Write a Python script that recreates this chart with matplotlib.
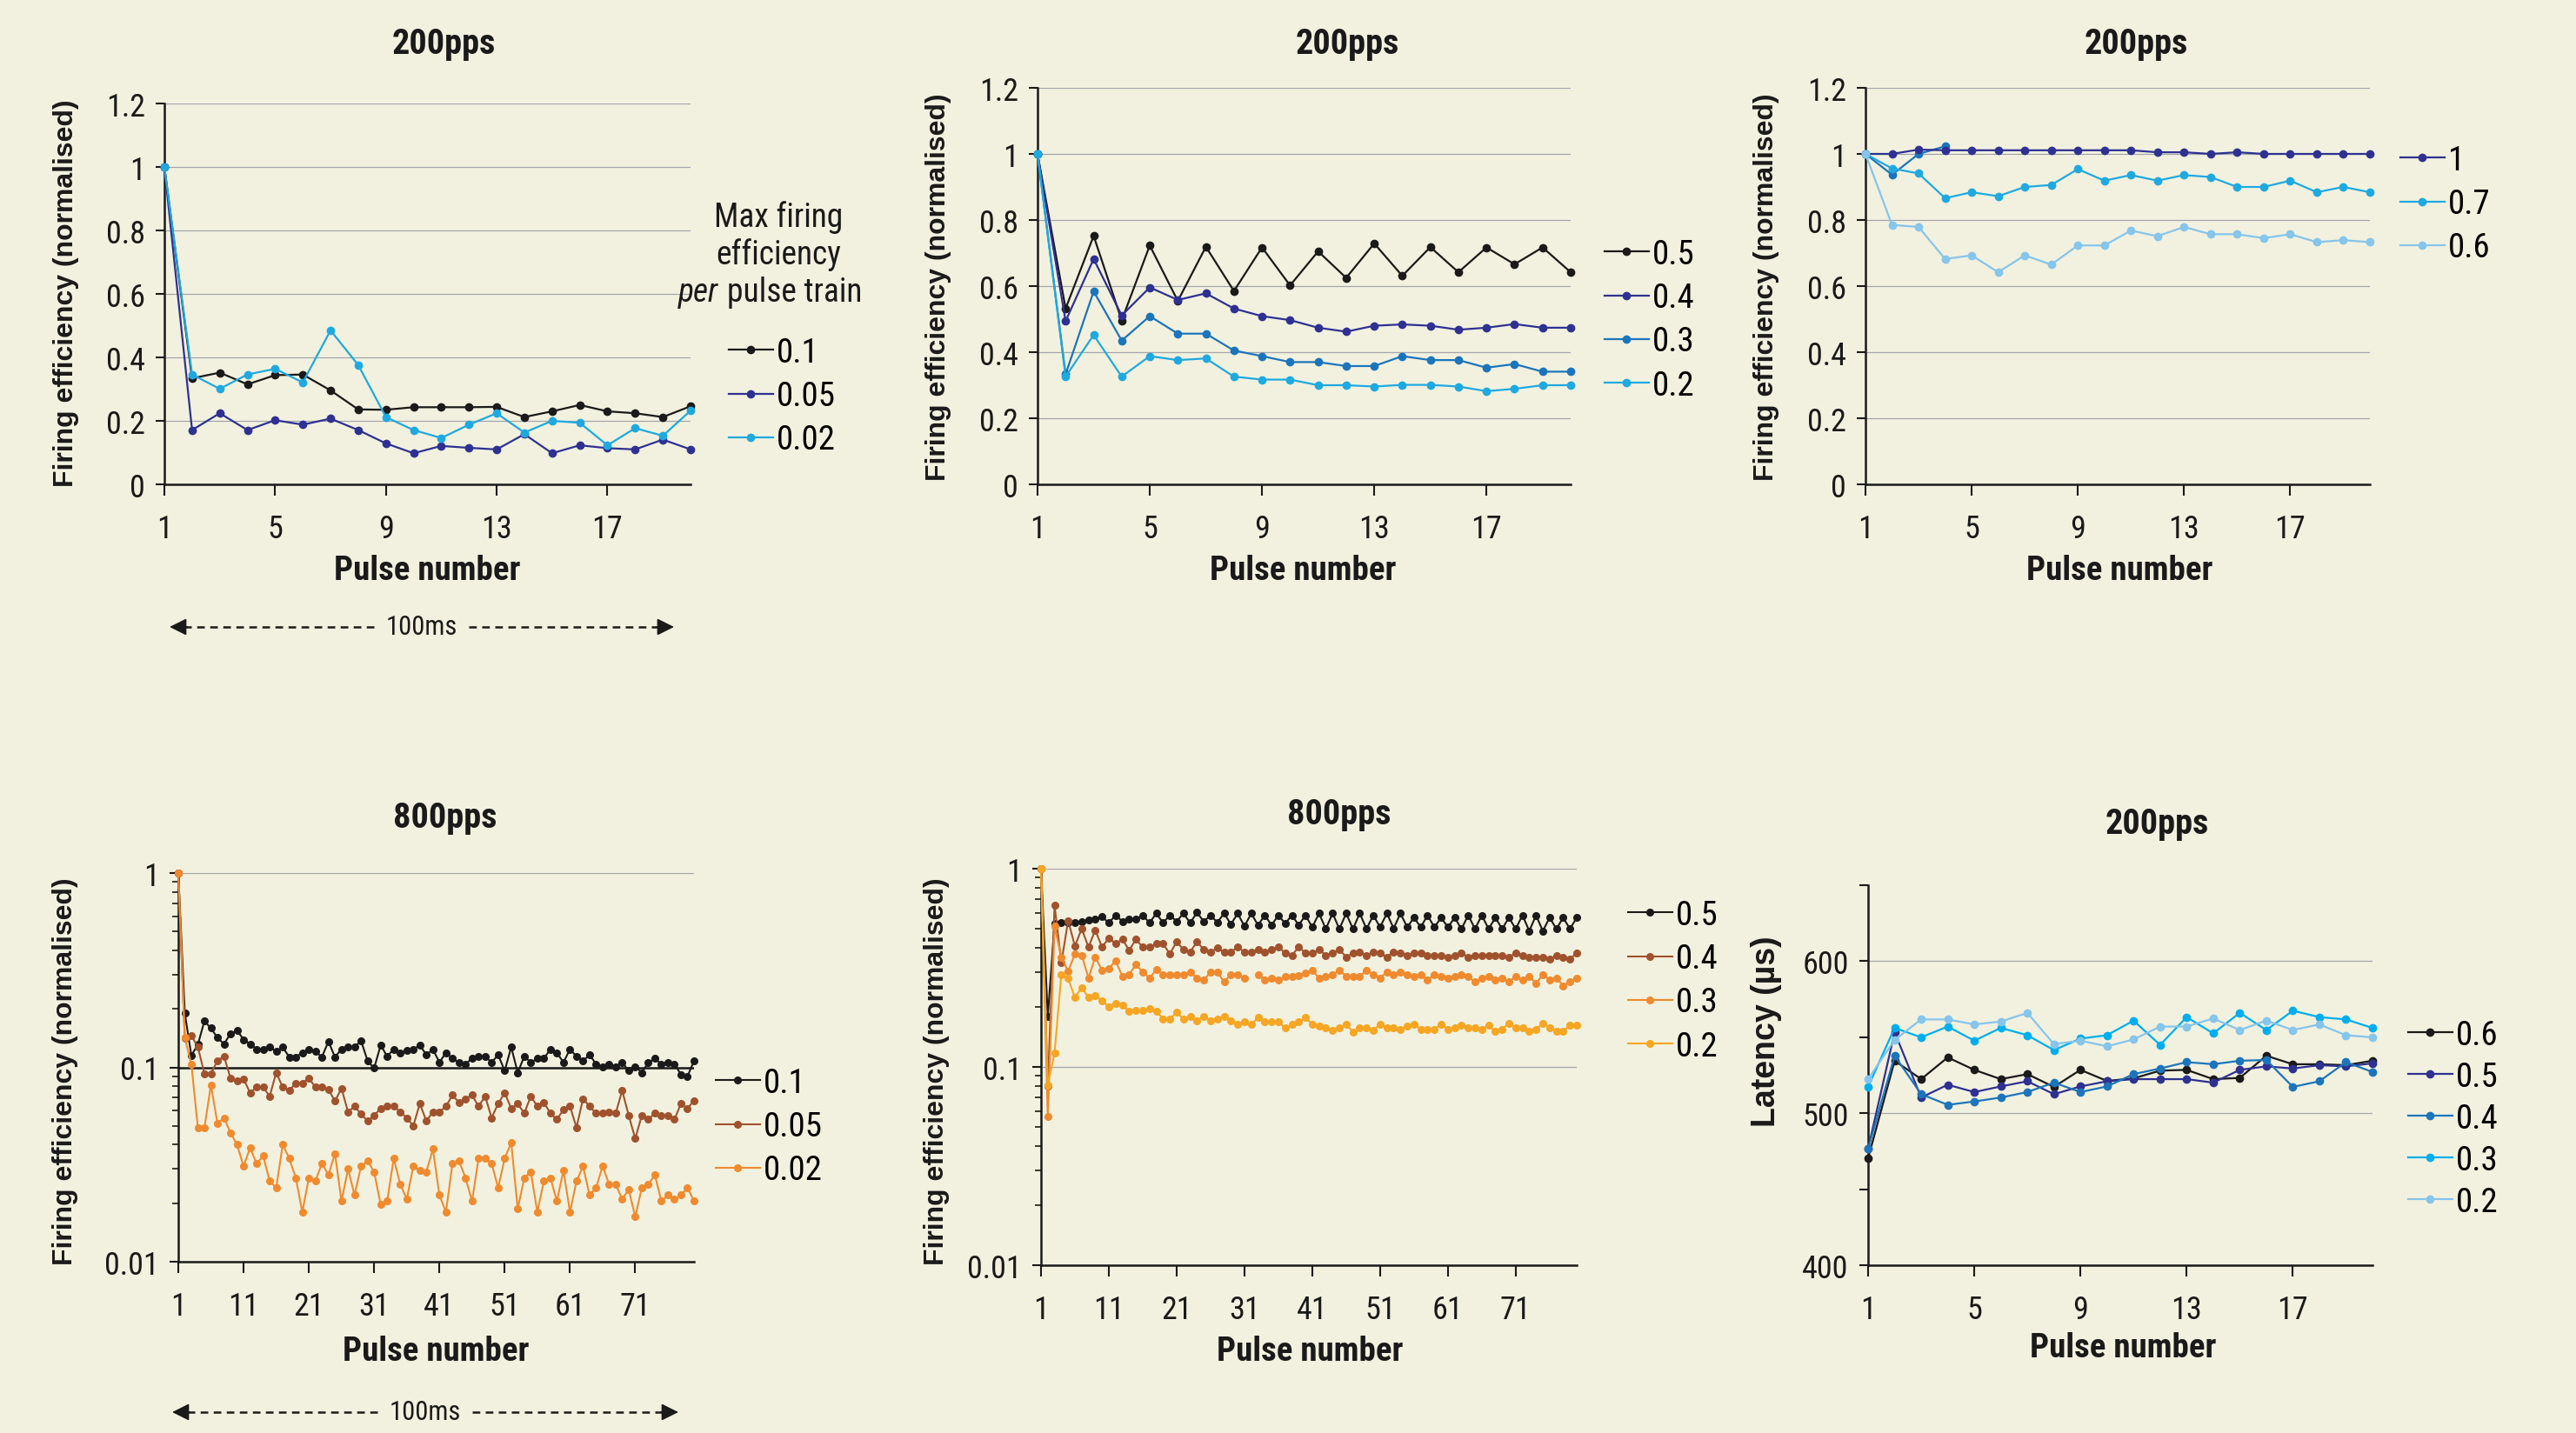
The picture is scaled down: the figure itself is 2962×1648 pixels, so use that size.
import numpy as np
import matplotlib.pyplot as plt
from matplotlib import font_manager
from matplotlib.lines import Line2D
from matplotlib.ticker import FixedLocator, NullFormatter, LogLocator

# ---- data ----
pulses20 = list(range(1, 21))
pulses80 = list(range(1, 81))

# 200pps, low max firing efficiency
eff200_01 = [1.0, 0.334, 0.352, 0.315, 0.344, 0.346, 0.296, 0.236, 0.235, 0.243,
             0.243, 0.243, 0.244, 0.212, 0.230, 0.250, 0.230, 0.224, 0.212, 0.246]
eff200_005 = [1.0, 0.171, 0.224, 0.171, 0.202, 0.188, 0.207, 0.171, 0.129, 0.098,
              0.121, 0.115, 0.110, 0.158, 0.098, 0.123, 0.114, 0.110, 0.141, 0.110]
eff200_002 = [1.0, 0.346, 0.301, 0.346, 0.364, 0.321, 0.485, 0.376, 0.212, 0.171,
              0.146, 0.188, 0.224, 0.163, 0.200, 0.194, 0.123, 0.177, 0.153, 0.232]

# 200pps, mid max firing efficiency
eff200_05 = [1.0, 0.532, 0.752, 0.496, 0.723, 0.555, 0.719, 0.585, 0.717, 0.602,
             0.705, 0.625, 0.729, 0.631, 0.718, 0.642, 0.717, 0.666, 0.717, 0.642]
eff200_04 = [1.0, 0.494, 0.682, 0.511, 0.596, 0.558, 0.578, 0.532, 0.509, 0.497,
             0.474, 0.462, 0.480, 0.484, 0.480, 0.468, 0.474, 0.485, 0.474, 0.474]
eff200_03 = [1.0, 0.333, 0.584, 0.435, 0.509, 0.456, 0.456, 0.405, 0.388, 0.370,
             0.370, 0.358, 0.358, 0.388, 0.376, 0.376, 0.353, 0.364, 0.341, 0.341]
eff200_02 = [1.0, 0.326, 0.452, 0.326, 0.388, 0.376, 0.381, 0.326, 0.317, 0.317,
             0.300, 0.300, 0.296, 0.301, 0.301, 0.296, 0.282, 0.289, 0.300, 0.300]

# 200pps, high max firing efficiency
eff200_1 = [1.0, 1.0, 1.013, 1.011, 1.011, 1.011, 1.011, 1.011, 1.011, 1.011,
            1.011, 1.005, 1.005, 1.0, 1.005, 1.0, 1.0, 1.0, 1.0, 1.0]
eff200_frag = [1.0, 0.937, 1.0, 1.023]   # short unlabelled trace
eff200_07 = [1.0, 0.956, 0.941, 0.866, 0.884, 0.872, 0.900, 0.906, 0.954, 0.919,
             0.936, 0.919, 0.936, 0.930, 0.900, 0.900, 0.919, 0.884, 0.900, 0.884]
eff200_06 = [1.0, 0.785, 0.779, 0.682, 0.693, 0.642, 0.693, 0.665, 0.723, 0.723,
             0.768, 0.751, 0.779, 0.757, 0.757, 0.745, 0.757, 0.733, 0.739, 0.733]

# 800pps, low max firing efficiency
eff800_01 = [1.0, 0.190, 0.115, 0.131, 0.173, 0.159, 0.142, 0.132, 0.149, 0.155,
             0.139, 0.132, 0.124, 0.124, 0.127, 0.121, 0.127, 0.113, 0.113, 0.119,
             0.124, 0.121, 0.113, 0.136, 0.113, 0.124, 0.127, 0.127, 0.137, 0.108,
             0.099, 0.130, 0.114, 0.124, 0.119, 0.122, 0.124, 0.130, 0.116, 0.124,
             0.106, 0.119, 0.111, 0.106, 0.104, 0.111, 0.114, 0.114, 0.106, 0.116,
             0.096, 0.127, 0.094, 0.114, 0.106, 0.111, 0.111, 0.124, 0.119, 0.106,
             0.124, 0.114, 0.108, 0.116, 0.104, 0.101, 0.104, 0.101, 0.106, 0.096,
             0.101, 0.094, 0.106, 0.111, 0.104, 0.106, 0.104, 0.092, 0.090, 0.108]
eff800_005 = [1.0, 0.141, 0.146, 0.127, 0.093, 0.093, 0.108, 0.114, 0.088, 0.085,
              0.087, 0.074, 0.079, 0.079, 0.071, 0.094, 0.079, 0.076, 0.083, 0.083,
              0.088, 0.079, 0.079, 0.077, 0.067, 0.078, 0.059, 0.063, 0.0575, 0.053,
              0.0565, 0.0615, 0.063, 0.063, 0.059, 0.055, 0.050, 0.065, 0.053, 0.059,
              0.059, 0.063, 0.072, 0.066, 0.069, 0.072, 0.063, 0.071, 0.055, 0.065,
              0.074, 0.0615, 0.065, 0.058, 0.071, 0.063, 0.066, 0.058, 0.054, 0.0605,
              0.063, 0.049, 0.069, 0.063, 0.058, 0.058, 0.059, 0.058, 0.076, 0.0565,
              0.043, 0.0565, 0.054, 0.058, 0.0565, 0.0565, 0.054, 0.065, 0.0615, 0.0675]
eff800_002 = [1.0, 0.142, 0.104, 0.049, 0.049, 0.081, 0.0515, 0.055, 0.046, 0.040,
              0.031, 0.0385, 0.032, 0.035, 0.026, 0.024, 0.040, 0.034, 0.027, 0.018,
              0.027, 0.026, 0.032, 0.028, 0.036, 0.0205, 0.030, 0.022, 0.031, 0.033,
              0.029, 0.0197, 0.0205, 0.034, 0.025, 0.021, 0.031, 0.0295, 0.029, 0.038,
              0.022, 0.018, 0.032, 0.033, 0.027, 0.0205, 0.034, 0.034, 0.032, 0.024,
              0.034, 0.041, 0.0187, 0.027, 0.029, 0.018, 0.026, 0.027, 0.0205, 0.0295,
              0.018, 0.026, 0.031, 0.022, 0.024, 0.031, 0.025, 0.025, 0.021, 0.0235,
              0.017, 0.024, 0.025, 0.028, 0.0205, 0.022, 0.021, 0.022, 0.024, 0.0205]

# 800pps, mid max firing efficiency
eff800_05 = [1.0, 0.180, 0.529, 0.536, 0.536, 0.536, 0.542, 0.551, 0.559, 0.572,
             0.533, 0.582, 0.542, 0.559, 0.555, 0.582, 0.533, 0.595, 0.533, 0.582,
             0.542, 0.595, 0.533, 0.601, 0.542, 0.582, 0.536, 0.595, 0.524, 0.595,
             0.512, 0.595, 0.519, 0.582, 0.519, 0.582, 0.529, 0.582, 0.519, 0.582,
             0.507, 0.595, 0.497, 0.595, 0.497, 0.595, 0.497, 0.595, 0.497, 0.582,
             0.507, 0.595, 0.500, 0.595, 0.507, 0.566, 0.507, 0.582, 0.507, 0.566,
             0.507, 0.566, 0.497, 0.582, 0.497, 0.582, 0.497, 0.566, 0.497, 0.566,
             0.497, 0.582, 0.485, 0.582, 0.485, 0.566, 0.497, 0.566, 0.497, 0.566]
eff800_04 = [1.0, 0.080, 0.652, 0.335, 0.547, 0.407, 0.498, 0.402, 0.490, 0.402,
             0.447, 0.418, 0.440, 0.388, 0.440, 0.402, 0.402, 0.418, 0.418, 0.372,
             0.428, 0.391, 0.380, 0.428, 0.391, 0.380, 0.398, 0.380, 0.380, 0.402,
             0.380, 0.380, 0.391, 0.380, 0.391, 0.402, 0.376, 0.366, 0.402, 0.376,
             0.376, 0.391, 0.366, 0.376, 0.391, 0.358, 0.376, 0.380, 0.366, 0.380,
             0.376, 0.358, 0.380, 0.376, 0.366, 0.376, 0.376, 0.366, 0.366, 0.366,
             0.358, 0.366, 0.376, 0.358, 0.366, 0.366, 0.366, 0.366, 0.366, 0.358,
             0.376, 0.366, 0.358, 0.358, 0.358, 0.349, 0.366, 0.358, 0.349, 0.376]
eff800_03 = [1.0, 0.056, 0.512, 0.358, 0.303, 0.372, 0.366, 0.281, 0.358, 0.307,
             0.314, 0.342, 0.287, 0.293, 0.328, 0.301, 0.281, 0.309, 0.293, 0.293,
             0.293, 0.293, 0.301, 0.281, 0.274, 0.301, 0.301, 0.268, 0.293, 0.293,
             0.281, np.nan, 0.293, 0.275, 0.281, 0.275, 0.287, 0.287, 0.289, 0.297,
             0.307, 0.281, 0.287, 0.293, 0.307, 0.287, 0.287, 0.287, 0.307, 0.293,
             0.281, 0.301, 0.293, 0.301, 0.293, 0.287, 0.293, 0.275, 0.293, 0.287,
             0.281, 0.287, 0.293, 0.287, 0.268, 0.281, 0.287, 0.275, 0.281, 0.268,
             0.287, 0.275, 0.287, 0.263, 0.293, 0.275, 0.281, 0.257, 0.268, 0.281]
eff800_02 = [1.0, 0.081, 0.118, 0.293, 0.279, 0.224, 0.251, 0.224, 0.230, 0.215,
             0.201, 0.210, 0.205, 0.191, 0.192, 0.192, 0.197, 0.191, 0.175, 0.175,
             0.188, 0.175, 0.179, 0.171, 0.180, 0.171, 0.175, 0.180, 0.171, 0.164,
             0.169, 0.164, 0.177, 0.169, 0.169, 0.169, 0.157, 0.164, 0.169, 0.177,
             0.164, 0.160, 0.157, 0.153, 0.158, 0.164, 0.150, 0.157, 0.157, 0.153,
             0.164, 0.157, 0.157, 0.155, 0.160, 0.164, 0.155, 0.155, 0.155, 0.164,
             0.155, 0.158, 0.162, 0.158, 0.158, 0.155, 0.162, 0.151, 0.155, 0.166,
             0.158, 0.158, 0.151, 0.155, 0.166, 0.158, 0.151, 0.151, 0.162, 0.162]

# 200pps latency (us)
lat_06 = [470.3, 534.5, 522.4, 536.7, 528.5, 522.4, 525.7, 517.3, 528.5, 521.2,
          522.9, 528.0, 528.5, 522.4, 523.2, 537.8, 532.2, 532.2, 531.6, 534.5]
lat_05 = [476.5, 553.3, 510.3, 518.7, 513.9, 517.6, 521.0, 512.5, 517.6, 521.0,
          522.4, 522.4, 522.4, 520.1, 528.5, 530.8, 529.4, 531.6, 530.8, 532.8]
lat_04 = [476.5, 537.8, 512.5, 505.5, 507.7, 510.3, 513.9, 520.1, 513.9, 517.6,
          525.7, 529.4, 533.6, 532.2, 534.5, 535.0, 517.3, 521.0, 533.6, 527.1]
lat_03 = [517.3, 556.1, 549.9, 557.0, 547.7, 556.1, 551.3, 541.5, 549.1, 551.3,
          560.9, 544.9, 563.2, 552.5, 566.0, 554.7, 567.4, 563.2, 561.7, 556.1]
lat_02 = [522.4, 548.2, 561.7, 561.7, 558.4, 560.3, 566.0, 545.4, 547.7, 544.0,
          548.5, 557.0, 557.0, 562.3, 554.7, 560.9, 554.7, 558.4, 551.3, 549.9]

ticks200 = [1, 5, 9, 13, 17]
ticks800 = [1, 11, 21, 31, 41, 51, 61, 71]
lin_ticks = [0, 0.2, 0.4, 0.6, 0.8, 1.0, 1.2]
lin_labels = ['0', '0.2', '0.4', '0.6', '0.8', '1', '1.2']
log_ticks = [0.01, 0.1, 1]
log_labels = ['0.01', '0.1', '1']
lat_ticks = [400, 450, 500, 550, 600, 650]
lat_labels = ['400', '', '500', '', '600', '']

# ---- styling ----
W, H = 2962, 1649
BG = '#F2F1DF'
INK = '#1A1A1A'
GRID = '#A3A6AD'
NAVY = '#2E3192'
MIDBLUE = '#1C75BC'
CYAN = '#1FA9E1'
SKY = '#86C5EC'
BROWN = '#A0522D'
ORANGE = '#F08A2E'
GOLD = '#F6A623'

# pick a condensed face if one is installed, else the narrowest plain one
installed = {f.name for f in font_manager.fontManager.ttflist}
narrow_face = 'Roboto'
for name in ['Liberation Sans Narrow', 'Roboto Condensed', 'Arial Narrow',
             'Open Sans Condensed', 'Noto Sans Display', 'Roboto']:
    if name in installed:
        narrow_face = name
        break
NARROW = [narrow_face, 'DejaVu Sans']
WIDE = ['Liberation Sans', 'DejaVu Sans']

plt.rcParams['font.family'] = NARROW

TICK_FS = 26
LEG_FS = 28


def fx(x):
    return x / W


def fy(y):
    return 1 - y / H


fig = plt.figure(figsize=(W / 100, H / 100), dpi=100, facecolor=BG)


def make_axes(x0, y0, x1, y1):
    ax = fig.add_axes([fx(x0), fy(y1), (x1 - x0) / W, (y1 - y0) / H])
    ax.set_facecolor('none')
    ax.spines['top'].set_visible(False)
    ax.spines['right'].set_visible(False)
    for s in ['left', 'bottom']:
        ax.spines[s].set_linewidth(1.8)
        ax.spines[s].set_color(INK)
    ax.tick_params(axis='both', direction='out', color=INK, width=1.5,
                   labelsize=TICK_FS, labelcolor=INK)
    ax.tick_params(axis='y', length=7, pad=9)
    ax.tick_params(axis='x', length=9, pad=15)
    return ax


def plot_series(ax, x, y, color, label=None, lw=1.6, ms=6):
    ax.plot(x, y, color=color, lw=lw, marker='o', ms=ms, mec=color, mfc=color,
            label=label, clip_on=False, zorder=3)


def add_legend(ax, x, y, spacing=0.34):
    ax.legend(loc='upper left', bbox_to_anchor=(fx(x), fy(y)),
              bbox_transform=fig.transFigure, frameon=False, borderpad=0,
              borderaxespad=0, handlelength=1.3, handletextpad=0.12,
              labelspacing=spacing, prop={'family': NARROW, 'size': LEG_FS})


def label_panel(title, tx, ty, px, py, ylab, lx, ly, yfs=23):
    fig.text(fx(tx), fy(ty), title, ha='center', va='center', fontsize=29,
             fontweight='bold', color=INK)
    fig.text(fx(px), fy(py), 'Pulse number', ha='center', va='center',
             fontsize=28, fontweight='bold', color=INK)
    fig.text(fx(lx), fy(ly), ylab, ha='center', va='center', rotation=90,
             fontsize=yfs, fontweight='bold', color=INK, family=WIDE)


def linear_eff_axes(ax):
    ax.set_xlim(1, 20)
    ax.set_ylim(0, 1.2)
    ax.set_xticks(ticks200)
    ax.set_xticklabels([str(t) for t in ticks200])
    ax.set_yticks(lin_ticks)
    ax.set_yticklabels(lin_labels)
    for v in lin_ticks[1:]:
        ax.axhline(v, color=GRID, lw=0.9, zorder=1)


def log_eff_axes(ax, black_tenth=False):
    ax.set_yscale('log')
    ax.set_xlim(1, 80)
    ax.set_ylim(0.01, 1)
    ax.set_xticks(ticks800)
    ax.set_xticklabels([str(t) for t in ticks800])
    ax.yaxis.set_major_locator(FixedLocator(log_ticks))
    ax.set_yticklabels(log_labels)
    ax.yaxis.set_minor_locator(LogLocator(base=10, subs=np.arange(2, 10)))
    ax.yaxis.set_minor_formatter(NullFormatter())
    ax.tick_params(axis='y', which='minor', length=5, width=1.2, color=INK)
    ax.axhline(1, color=GRID, lw=0.9, zorder=1)
    if black_tenth:
        ax.axhline(0.1, color=INK, lw=1.8, zorder=2)
    else:
        ax.axhline(0.1, color=GRID, lw=0.9, zorder=1)


def range_arrow(x0, x1, y, tx0, tx1, label):
    fig.text(fx((tx0 + tx1) / 2), fy(y), label, ha='center', va='center',
             fontsize=22, color=INK)
    for a, b in [(tx0 - 14, x0 + 16), (tx1 + 14, x1 - 16)]:
        fig.add_artist(Line2D([fx(a), fx(b)], [fy(y), fy(y)],
                              transform=fig.transFigure, color=INK, lw=1.8,
                              ls=(0, (3.5, 2.5))))
    for tail, tip in [(x0 + 20, x0), (x1 - 20, x1)]:
        fig.add_artist(plt.Annotation('', xy=(fx(tip), fy(y)),
                                      xytext=(fx(tail), fy(y)),
                                      xycoords='figure fraction',
                                      textcoords='figure fraction',
                                      arrowprops=dict(arrowstyle='-|>',
                                                      color=INK, lw=1.2,
                                                      mutation_scale=30,
                                                      shrinkA=0, shrinkB=0)))


# ---- panel 1: 200pps low ----
ax1 = make_axes(189, 120, 794, 558)
linear_eff_axes(ax1)
plot_series(ax1, pulses20, eff200_01, INK, '0.1')
plot_series(ax1, pulses20, eff200_005, NAVY, '0.05')
plot_series(ax1, pulses20, eff200_002, CYAN, '0.02')
add_legend(ax1, 838, 388)
label_panel('200pps', 510, 51, 491, 657, 'Firing efficiency (normalised)', 76, 337)
fig.text(fx(895), fy(250), 'Max firing', ha='center', va='center', fontsize=27, color=INK)
fig.text(fx(895), fy(293), 'efficiency', ha='center', va='center', fontsize=27, color=INK)
fig.text(fx(826), fy(337), 'per', ha='right', va='center', fontsize=27,
         style='italic', color=INK)
fig.text(fx(836), fy(337), 'pulse train', ha='left', va='center', fontsize=27, color=INK)
range_arrow(195, 775, 722, 444, 525, '100ms')

# ---- panel 2: 200pps mid ----
ax2 = make_axes(1193, 102, 1806, 558)
linear_eff_axes(ax2)
plot_series(ax2, pulses20, eff200_05, INK, '0.5')
plot_series(ax2, pulses20, eff200_04, NAVY, '0.4')
plot_series(ax2, pulses20, eff200_03, MIDBLUE, '0.3')
plot_series(ax2, pulses20, eff200_02, CYAN, '0.2')
add_legend(ax2, 1845, 275)
label_panel('200pps', 1549, 51, 1498, 657, 'Firing efficiency (normalised)', 1079, 330)

# ---- panel 3: 200pps high ----
ax3 = make_axes(2145, 102, 2725, 558)
linear_eff_axes(ax3)
plot_series(ax3, pulses20[:len(eff200_frag)], eff200_frag, MIDBLUE)
plot_series(ax3, pulses20, eff200_1, NAVY, '1')
plot_series(ax3, pulses20, eff200_07, CYAN, '0.7')
plot_series(ax3, pulses20, eff200_06, SKY, '0.6')
add_legend(ax3, 2760, 167)
label_panel('200pps', 2456, 51, 2437, 657, 'Firing efficiency (normalised)', 2031, 330)

# ---- panel 4: 800pps low (log) ----
ax4 = make_axes(205, 1005, 798, 1452)
log_eff_axes(ax4, black_tenth=True)
plot_series(ax4, pulses80, eff800_01, INK, '0.1', lw=1.5, ms=5.5)
plot_series(ax4, pulses80, eff800_005, BROWN, '0.05', lw=1.5, ms=5.5)
plot_series(ax4, pulses80, eff800_002, ORANGE, '0.02', lw=1.5, ms=5.5)
add_legend(ax4, 823, 1228)
label_panel('800pps', 512, 941, 501, 1555, 'Firing efficiency (normalised)', 75, 1232)
range_arrow(198, 780, 1625, 448, 529, '100ms')

# ---- panel 5: 800pps mid (log) ----
ax5 = make_axes(1197, 1000, 1813, 1456)
log_eff_axes(ax5)
plot_series(ax5, pulses80, eff800_05, INK, '0.5', lw=1.5, ms=5.5)
plot_series(ax5, pulses80, eff800_04, BROWN, '0.4', lw=1.5, ms=5.5)
plot_series(ax5, pulses80, eff800_03, ORANGE, '0.3', lw=1.5, ms=5.5)
plot_series(ax5, pulses80, eff800_02, GOLD, '0.2', lw=1.5, ms=5.5)
add_legend(ax5, 1872, 1035)
label_panel('800pps', 1540, 937, 1506, 1555, 'Firing efficiency (normalised)', 1077, 1232)

# ---- panel 6: latency ----
ax6 = make_axes(2148, 1019, 2728, 1456)
ax6.set_xlim(1, 20)
ax6.set_ylim(400, 650)
ax6.set_xticks(ticks200)
ax6.set_xticklabels([str(t) for t in ticks200])
ax6.set_yticks(lat_ticks)
ax6.set_yticklabels(lat_labels)
for v in [500, 600]:
    ax6.axhline(v, color=GRID, lw=0.9, zorder=1)
plot_series(ax6, pulses20, lat_06, INK, '0.6')
plot_series(ax6, pulses20, lat_05, NAVY, '0.5')
plot_series(ax6, pulses20, lat_04, MIDBLUE, '0.4')
plot_series(ax6, pulses20, lat_03, '#00AEEF', '0.3')
plot_series(ax6, pulses20, lat_02, SKY, '0.2')
add_legend(ax6, 2769, 1173, spacing=0.28)
label_panel('200pps', 2480, 948, 2441, 1551, 'Latency (µs)', 2031, 1186, yfs=27)

fig.savefig('out.png', dpi=100, facecolor=BG)
